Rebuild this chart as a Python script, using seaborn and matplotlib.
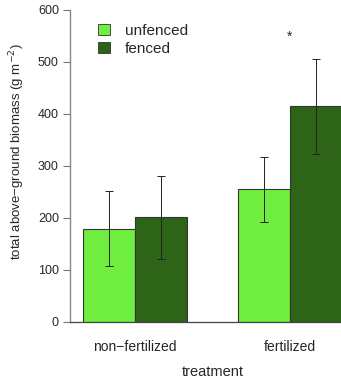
import pandas as pd
import matplotlib
matplotlib.use('Agg')
import matplotlib.pyplot as plt
import seaborn as sns

# Values
treatments = ['non\u2212fertilized', 'fertilized']
fencing = ['unfenced', 'fenced']
unfenced_mean = [179, 255]
fenced_mean = [201, 415]
unfenced_lo = [107, 193]
unfenced_hi = [251, 317]
fenced_lo = [122, 323]
fenced_hi = [281, 505]
star_y = 548

data = pd.DataFrame({
    'treatment': treatments * 2,
    'fencing': [fencing[0]] * 2 + [fencing[1]] * 2,
    'biomass': unfenced_mean + fenced_mean,
})

sns.set_style('ticks')
plt.rcParams['font.family'] = ['Liberation Sans', 'DejaVu Sans']

fig = plt.figure(figsize=(3.41, 3.78), dpi=100)
# plot region runs a little past the right edge of the image
ax = fig.add_axes([70 / 341, 1 - 322 / 378, 286 / 341, 312 / 378])

palette = {'unfenced': '#6FEE3F', 'fenced': '#2D6418'}
sns.barplot(data=data, x='treatment', y='biomass', hue='fencing',
            order=treatments, hue_order=fencing, palette=palette,
            width=0.671, errorbar=None, edgecolor='#333333', linewidth=0.8,
            saturation=1, ax=ax)

# error bars on top of bars
los = unfenced_lo + fenced_lo
his = unfenced_hi + fenced_hi
means = unfenced_mean + fenced_mean
bars = [p for p in ax.patches if p.get_height() > 0]
bars = sorted(bars, key=lambda p: p.get_x())
order = [0, 2, 1, 3]  # sorted by x: nf-unf, nf-fen, f-unf, f-fen
xs = [b.get_x() + b.get_width() / 2 for b in bars]
for i, x in enumerate(xs):
    k = order[i]
    ax.errorbar(x, means[k], yerr=[[means[k] - los[k]], [his[k] - means[k]]],
                fmt='none', ecolor='#222222', elinewidth=0.7, capsize=3,
                capthick=0.7)

ax.text(xs[3] - 0.17, star_y, '*', ha='center', va='center', fontsize=10)

ax.set_xlim(-0.419, 1.426)
ax.set_ylim(0, 600)
ax.set_yticks(range(0, 601, 100))
ax.tick_params(axis='y', labelsize=9, length=5, width=0.8, color='#777777', pad=3)
ax.tick_params(axis='x', labelsize=10, length=0, pad=13)
ax.set_xlabel('treatment', fontsize=10.5, labelpad=8)
ax.set_ylabel('total above\u2212ground biomass (g m$^{\u22122}$)', fontsize=9.5)
ax.yaxis.set_label_coords(-0.15, 0.545)

for s in ['top', 'right']:
    ax.spines[s].set_visible(False)
ax.spines['left'].set_color('#888888')
ax.spines['left'].set_linewidth(1.0)
ax.spines['bottom'].set_color('#444444')
ax.spines['bottom'].set_linewidth(0.9)

leg = ax.legend(loc='upper left', bbox_to_anchor=(0.05, 1.0), frameon=False,
                fontsize=11, handlelength=0.75, handleheight=0.7,
                handletextpad=1.0, labelspacing=0.25)
for h in leg.legend_handles:
    h.set_edgecolor('#333333')
    h.set_linewidth(0.6)

fig.savefig('out.png', dpi=100)
